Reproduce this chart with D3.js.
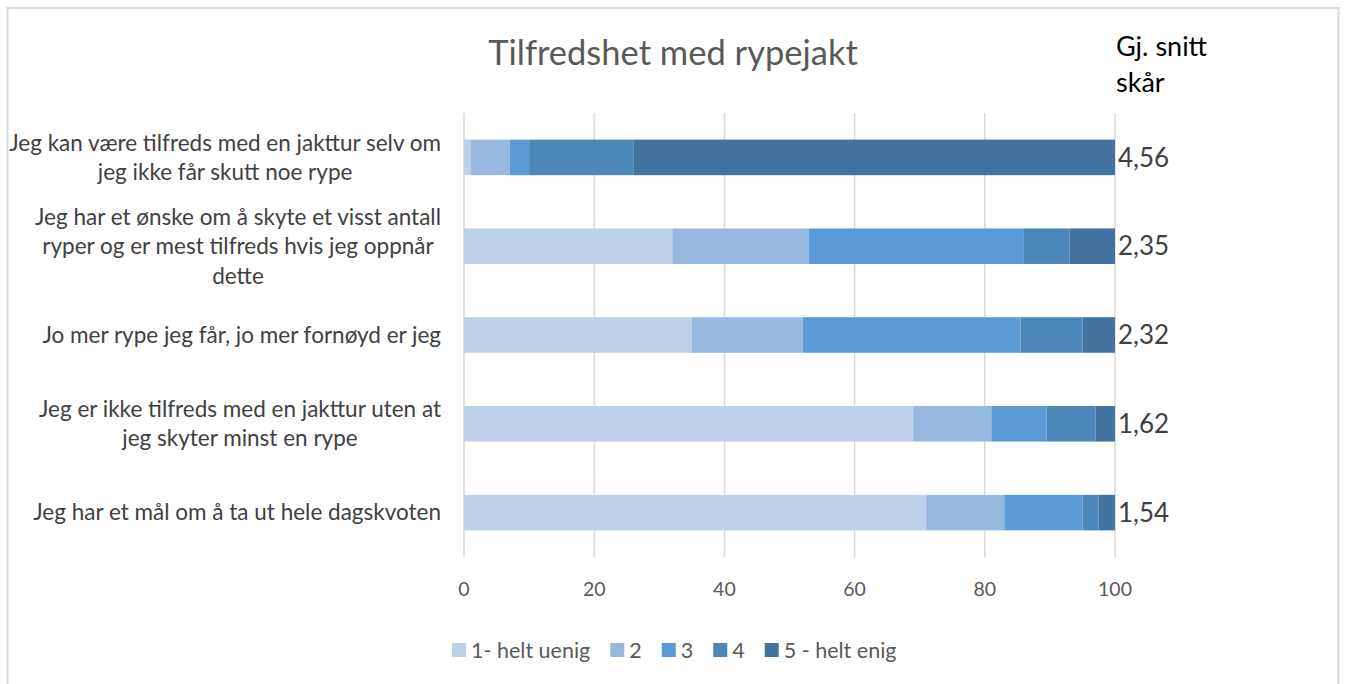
<!DOCTYPE html>
<html>
<head>
<meta charset="utf-8">
<script src="https://cdn.jsdelivr.net/npm/d3@7"></script>
<style>
  body { margin: 0; background: #fff; }
  svg { display: block; font-family: Lato, "Open Sans", sans-serif; }
</style>
</head>
<body>
<svg width="1346" height="684"></svg>
<script>
const categories = [
    ['Jeg kan være tilfreds med en jakttur selv om', 'jeg ikke får skutt noe rype'],
    ['Jeg har et ønske om å skyte et visst antall', 'ryper og er mest tilfreds hvis jeg oppnår', 'dette'],
    ['Jo mer rype jeg får, jo mer fornøyd er jeg'],
    ['Jeg er ikke tilfreds med en jakttur uten at', 'jeg skyter minst en rype'],
    ['Jeg har et mål om å ta ut hele dagskvoten']
];
const seriesNames = ['1- helt uenig', '2', '3', '4', '5 - helt enig'];
const s1 = [1, 32, 35, 69, 71];
const s2 = [6, 21, 17, 12, 12];
const s3 = [3, 33, 33.5, 8.5, 12];
const s4 = [16, 7, 9.5, 7.5, 2.5];
const s5 = [74, 7, 5, 3, 2.5];
const averages = ['4,56', '2,35', '2,32', '1,62', '1,54'];
const xTicks = [0, 20, 40, 60, 80, 100];
const title = 'Tilfredshet med rypejakt';
const avgTitle = ['Gj. snitt', 'skår'];

const colors = ['#bdd1ea', '#98b9df', '#5b9bd5', '#4c87ba', '#42729e'];

const svg = d3.select('svg');

// chart border
svg.append('rect')
    .attr('x', 7.5).attr('y', 8)
    .attr('width', 1331).attr('height', 700)
    .attr('fill', 'none')
    .attr('stroke', '#d9d9d9')
    .attr('stroke-width', 2);

const x0 = 464, x1 = 1115, yTop = 113, yBottom = 557;

const xScale = d3.scaleLinear().domain([0, 100]).range([x0, x1]);
const yScale = d3.scaleBand()
    .domain(d3.range(categories.length))
    .range([yTop, yBottom])
    .paddingInner(0.6)
    .paddingOuter(0.3);

const rows = categories.map((c, i) => {
    const vals = [s1[i], s2[i], s3[i], s4[i], s5[i]];
    const r = {i};
    vals.forEach((v, k) => r[k] = v);
    return r;
});
const stack = d3.stack().keys(d3.range(5))(rows);

// gridlines
svg.append('g').selectAll('line').data(xTicks).join('line')
    .attr('x1', d => xScale(d)).attr('x2', d => xScale(d))
    .attr('y1', yTop).attr('y2', yBottom)
    .attr('stroke', '#d9d9d9')
    .attr('stroke-width', 1.5);

// bars
svg.append('g').selectAll('g').data(stack).join('g')
    .attr('fill', (d, k) => colors[k])
    .selectAll('rect').data(d => d).join('rect')
    .attr('x', d => xScale(d[0]))
    .attr('width', d => xScale(d[1]) - xScale(d[0]))
    .attr('y', d => yScale(d.data.i))
    .attr('height', yScale.bandwidth());

// x tick labels
svg.append('g').selectAll('text').data(xTicks).join('text')
    .attr('x', d => xScale(d))
    .attr('y', 589)
    .attr('dy', '0.35em')
    .attr('text-anchor', 'middle')
    .attr('fill', '#595959')
    .attr('font-size', 19.5)
    .text(d => d);

// category labels: centred lines, block right-aligned
const lineH = 29.5;
const labelRight = 441;
const labG = svg.append('g')
    .attr('fill', '#404040')
    .attr('font-size', 22.5);
categories.forEach((lines, i) => {
    const cy = yScale(i) + yScale.bandwidth() / 2;
    const t = labG.append('text').attr('text-anchor', 'middle');
    const tspans = lines.map((ln, j) => t.append('tspan')
        .attr('y', cy + (j - (lines.length - 1) / 2) * lineH)
        .attr('dy', '0.35em')
        .text(ln));
    const w = d3.max(tspans, s => s.node().getComputedTextLength());
    tspans.forEach(s => s.attr('x', labelRight - w / 2));
});

// average values
svg.append('g').selectAll('text').data(averages).join('text')
    .attr('x', x1 + 3)
    .attr('y', (d, i) => yScale(i) + yScale.bandwidth() / 2)
    .attr('dy', '0.35em')
    .attr('fill', '#404040')
    .attr('font-size', 26)
    .text(d => d);

// title
svg.append('text')
    .attr('x', 673).attr('y', 53)
    .attr('dy', '0.35em')
    .attr('text-anchor', 'middle')
    .attr('fill', '#595959')
    .attr('font-size', 34.5)
    .text(title);

svg.append('g').selectAll('text').data(avgTitle).join('text')
    .attr('x', 1116)
    .attr('y', (d, i) => 47 + i * 36)
    .attr('dy', '0.35em')
    .attr('fill', '#000')
    .attr('font-size', 27)
    .text(d => d);

// legend
const leg = svg.append('g').attr('transform', 'translate(452, 650)');
let lx = 0;
seriesNames.forEach((name, k) => {
    leg.append('rect')
        .attr('x', lx).attr('y', -7)
        .attr('width', 14).attr('height', 14)
        .attr('fill', colors[k]);
    const t = leg.append('text')
        .attr('x', lx + 19)
        .attr('dy', '0.35em')
        .attr('fill', '#595959')
        .attr('font-size', 21.5)
        .text(name);
    lx += 19 + t.node().getComputedTextLength() + 20;
});
</script>
</body>
</html>
